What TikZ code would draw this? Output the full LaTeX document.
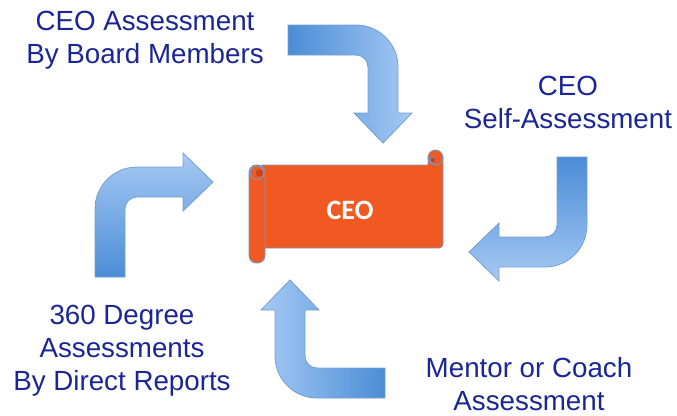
\documentclass[tikz,border=0pt]{standalone}
\usepackage{fontspec}
\setmainfont{Liberation Sans}
\newfontfamily\bannerfont{Carlito}
\usepackage{tikz}
\definecolor{raterblue}{RGB}{26,38,150}
\definecolor{arrowdark}{RGB}{76,140,214}
\definecolor{arrowlight}{RGB}{165,202,244}
\definecolor{arrowrim}{RGB}{118,158,210}
\definecolor{scrollorange}{RGB}{240,90,34}
\definecolor{scrollshade}{RGB}{200,68,24}
\definecolor{scrollrim}{RGB}{120,150,200}

% bent block arrow, drawn around its corner centre; #1 places it, #2 shades it
\newcommand{\bentarrow}[2]{%
  \begin{scope}[#1]
    \draw[arrowedge,#2] (-68,-42) -- (0,-42) .. controls (23.2,-42) and (42,-23.2) .. (42,0)
      -- (42,46) -- (56,46) -- (27,76) -- (-2,46) -- (12,46) -- (12,0)
      .. controls (12,-6.6) and (6.6,-12) .. (0,-12) -- (-68,-12) -- cycle;
  \end{scope}}

\begin{document}
\begin{tikzpicture}[x=0.75pt,y=-0.75pt,
  rater/.style={font=\fontsize{20.8}{24.75}\selectfont, text=raterblue, align=center, inner sep=0pt, anchor=base},
  arrowedge/.style={draw=arrowrim, line width=0.6pt},
  scroll/.style={fill=scrollorange, draw=scrollrim, line width=0.7pt}]
\useasboundingbox (0,0) rectangle (677,415);

% the four arrows
\bentarrow{shift={(356,67)}}{left color=arrowdark, right color=arrowlight}
\bentarrow{shift={(545,225)}, x={(0pt,-0.75pt)}, y={(-0.75pt,0pt)}}{top color=arrowdark, bottom color=arrowlight}
\bentarrow{shift={(137,209)}, x={(0pt,0.75pt)}, y={(0.75pt,0pt)}}{bottom color=arrowdark, top color=arrowlight}
\bentarrow{shift={(317,356)}, x={(-0.75pt,0pt)}, y={(0pt,0.75pt)}}{right color=arrowdark, left color=arrowlight}

% scroll banner
\draw[scroll] (262,165) -- (428,165) -- (428,157) -- (443,157) -- (443,244)
  .. controls (443,246.2) and (441.2,248) .. (439,248) -- (262,248) -- cycle;
\draw[scroll] (435.5,157.5) circle[radius=5.6pt];
\draw[scrollrim, fill=scrollshade, line width=0.5pt] (433,160) circle[radius=2.2pt];
\draw[scroll, rounded corners=5.6pt] (249,165) rectangle (265,263);
\draw[scroll] (257,173) circle[radius=5pt];
\fill[scrollshade] (259.5,173) circle[radius=2.8pt];
\node[text=white, font=\bannerfont\bfseries\fontsize{21}{24}\selectfont] (ceo) at (350,210) {CEO};

% who does the assessing (base = last line)
\node[rater] (board) at (145,63) {CEO Assessment\\By Board Members};
\node[rater] (self) at (568,128) {CEO\\Self-Assessment};
\node[rater] (reports) at (122,390) {360 Degree\\Assessments\\By Direct Reports};
\node[rater] (mentor) at (529,410) {Mentor or Coach\\Assessment};
\end{tikzpicture}
\end{document}
